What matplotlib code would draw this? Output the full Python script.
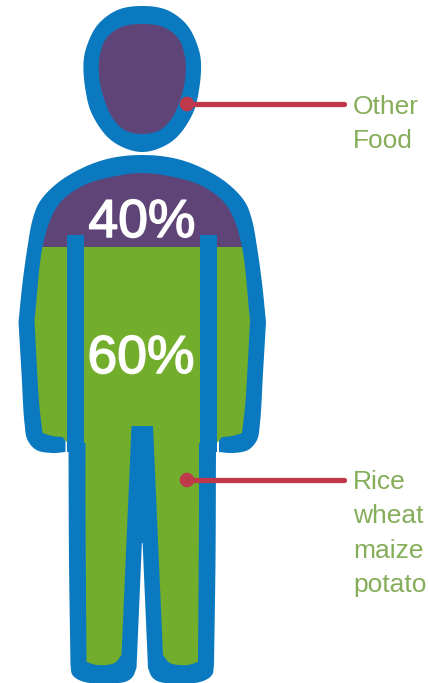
import numpy as np
import matplotlib
matplotlib.use("Agg")
import matplotlib.pyplot as plt
from matplotlib.patches import Polygon, Rectangle, Circle
from matplotlib.lines import Line2D
import matplotlib.patheffects as pe

# ---- content ----
shares = [40, 60]
share_labels = ["40%", "60%"]
other_label = ["Other", "Food"]
staple_label = ["Rice", "wheat", "maize", "potato"]

BLUE, PURPLE, GREEN, RED, LABEL = "#0B79BF", "#5F4577", "#72AD2C", "#C0394B", "#85AD5A"
CX = 142.25

# ---- silhouette outlines (right half; the left is mirrored), picture pixels ----
head_outer = [(142.25,6),(167,10),(187,25),(198,47),(201,63),(199,90),(193,113),(177,137),(160,148),(142.25,152)]
head_inner = [(142.25,24),(163,27),(178,38),(185,57),(185,80),(180,100),(172,118),(160,130),(142.25,134)]
body_outer = [
    [(142.25,155),(173,158),(200,167),(227,183),(245,202),(252,220),(257,247),(262,283),(266,322)],
    [(266,322),(263,373),(260,423),(257,440),(248,450),(232,453),(219,452)],
    [(219,452),(219,436)],
    [(219,436),(216,444)],
    [(216,444),(215.5,560),(214,665)],
    [(214,665),(212,675),(200,682),(160,682),(152,677),(148,668)],
    [(148,668),(142.6,543)],
    [(142.6,543),(142.25,543)],
]
body_inner = [
    [(142.25,173),(173,177),(200,185),(222,200),(233,217),(242,247),(250,320)],
    [(250,320),(248,360),(245,407),(242,433)],
    [(242,433),(232,436),(222,437)],
    [(222,437),(217,443)],
    [(217,443),(199,443)],
    [(199,443),(199,507),(198,662)],
    [(198,662),(187,665),(170,663),(163,655)],
    [(163,655),(153,426)],
    [(153,426),(142.25,426)],
]
strap_x = (200, 217)
strap_y = (235, 452)
split_y = 247


def spline(pts, n=16):
    """Centripetal Catmull-Rom through pts; a point on the axis continues across it."""
    pts = np.asarray(pts, float)
    if len(pts) < 3:
        return pts
    mirror = lambda q: np.array([2 * CX - q[0], q[1]])
    a = mirror(pts[1]) if abs(pts[0, 0] - CX) < 1e-6 else 2 * pts[0] - pts[1]
    b = mirror(pts[-2]) if abs(pts[-1, 0] - CX) < 1e-6 else 2 * pts[-1] - pts[-2]
    p = np.vstack([a, pts, b])
    out = []
    for i in range(1, len(p) - 2):
        p0, p1, p2, p3 = p[i - 1], p[i], p[i + 1], p[i + 2]
        t0 = 0.0
        t1 = t0 + np.linalg.norm(p1 - p0) ** 0.5
        t2 = t1 + np.linalg.norm(p2 - p1) ** 0.5
        t3 = t2 + np.linalg.norm(p3 - p2) ** 0.5
        for t in np.linspace(t1, t2, n, endpoint=False):
            a1 = (t1 - t) / (t1 - t0) * p0 + (t - t0) / (t1 - t0) * p1
            a2 = (t2 - t) / (t2 - t1) * p1 + (t - t1) / (t2 - t1) * p2
            a3 = (t3 - t) / (t3 - t2) * p2 + (t - t2) / (t3 - t2) * p3
            b1 = (t2 - t) / (t2 - t0) * a1 + (t - t0) / (t2 - t0) * a2
            b2 = (t3 - t) / (t3 - t1) * a2 + (t - t1) / (t3 - t1) * a3
            out.append((t2 - t) / (t2 - t1) * b1 + (t - t1) / (t2 - t1) * b2)
    out.append(p[-2])
    return np.array(out)


def mirrored(sections):
    right = np.vstack([spline(s) for s in sections])
    left = right[::-1].copy()
    left[:, 0] = 2 * CX - left[:, 0]
    return np.vstack([right, left])


fig = plt.figure(figsize=(4.28, 6.83), dpi=100, facecolor="white")
ax = fig.add_axes([0, 0, 1, 1])
ax.set_xlim(0, 428)
ax.set_ylim(683, 0)
ax.axis("off")

# head
ax.add_patch(Polygon(mirrored([head_outer]), closed=True, fc=BLUE, ec="none", zorder=1))
ax.add_patch(Polygon(mirrored([head_inner]), closed=True, fc=PURPLE, ec="none", zorder=2))

# body
ax.add_patch(Polygon(mirrored(body_outer), closed=True, fc=BLUE, ec="none", zorder=1))
interior = Polygon(mirrored(body_inner), closed=True, fc="none", ec="none", zorder=2)
ax.add_patch(interior)
top = Rectangle((0, 0), 428, split_y, fc=PURPLE, ec="none", zorder=2)
low = Rectangle((0, split_y), 428, 683 - split_y, fc=GREEN, ec="none", zorder=2)
for r in (top, low):
    ax.add_patch(r)
    r.set_clip_path(interior)

# straps between arms and torso
for x0, x1 in (strap_x, (2 * CX - strap_x[1], 2 * CX - strap_x[0])):
    ax.add_patch(Rectangle((x0, strap_y[0]), x1 - x0, strap_y[1] - strap_y[0], fc=BLUE, ec="none", zorder=3))

# percentages
for lab, x, y in zip(share_labels, (142, 141), (237, 373)):
    ax.text(x, y, lab, color="white", fontsize=38.5, family="Liberation Sans",
            ha="center", va="baseline", zorder=5,
            path_effects=[pe.withStroke(linewidth=1.1, foreground="white")])

# leaders
for y in (104, 480):
    ax.add_line(Line2D([187, 344], [y, y], color=RED, lw=3.8, solid_capstyle="round", zorder=4))
    ax.add_patch(Circle((187, y), 7.3, fc=RED, ec="none", zorder=4))

# labels
for lines, y0 in ((other_label, 114), (staple_label, 489)):
    for i, s in enumerate(lines):
        ax.text(353, y0 + i * 34.4, s, color=LABEL, fontsize=19, family="Liberation Sans",
                ha="left", va="baseline", zorder=5)

fig.savefig("out.png", dpi=100, facecolor="white")
